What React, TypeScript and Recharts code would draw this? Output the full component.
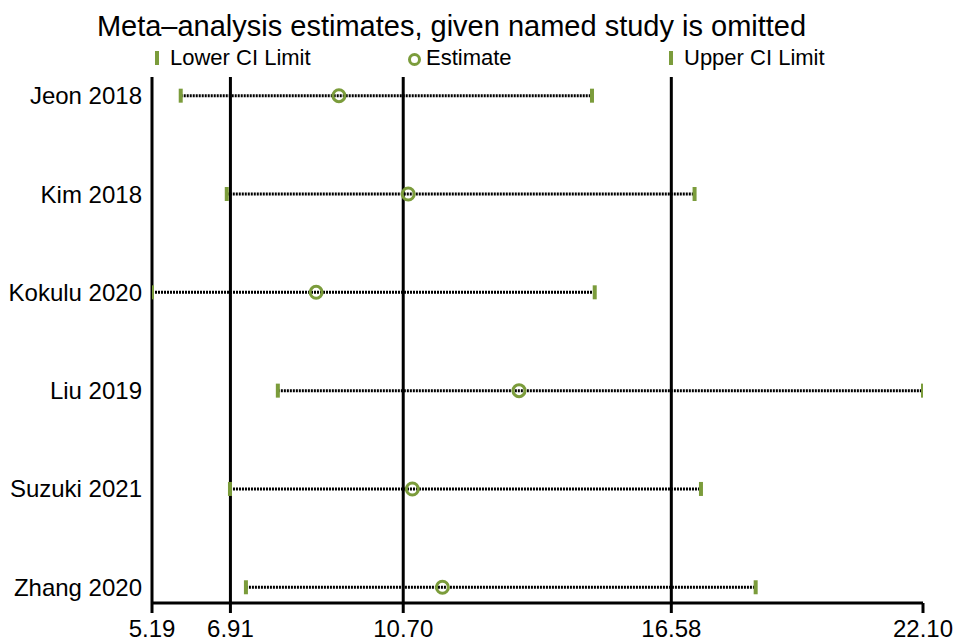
import {
  ScatterChart,
  Scatter,
  XAxis,
  YAxis,
  ReferenceLine,
  Legend,
} from 'recharts';

const studies = ['Jeon 2018', 'Kim 2018', 'Kokulu 2020', 'Liu 2019', 'Suzuki 2021', 'Zhang 2020'];
const lowerCI = [5.82, 6.83, 5.19, 7.95, 6.9, 7.25];
const estimates = [9.29, 10.81, 8.79, 13.24, 10.9, 11.56];
const upperCI = [14.84, 17.09, 14.9, 22.1, 17.23, 18.43];

// overall estimate and its CI (vertical lines) plus axis ends
const xTicks = [5.19, 6.91, 10.7, 16.58, 22.1];
const overallLines = [6.91, 10.7, 16.58];

const GREEN = '#7b9c3b';
const FONT = '"Liberation Sans", Arial, Helvetica, sans-serif';

const lowerData = studies.map((s, i) => ({ x: lowerCI[i], y: i, name: s }));
const estData = studies.map((s, i) => ({ x: estimates[i], y: i, name: s }));
const upperData = studies.map((s, i) => ({ x: upperCI[i], y: i, name: s }));

function CapShape(props: any) {
  const { cx, cy } = props;
  return <rect x={cx - 2} y={cy - 7} width={4} height={14} fill={GREEN} />;
}

function RingShape(props: any) {
  const { cx, cy } = props;
  return <circle cx={cx} cy={cy} r={6} fill="none" stroke={GREEN} strokeWidth={3} />;
}

function LegendContent() {
  const text = { position: 'absolute' as const, top: 5, fontSize: 22, lineHeight: '22px', color: '#000', whiteSpace: 'nowrap' as const };
  return (
    <div style={{ position: 'relative', width: 961, height: 30, fontFamily: FONT }}>
      <div style={{ position: 'absolute', left: 155, top: 9, width: 4, height: 14, background: GREEN }} />
      <div style={{ ...text, left: 170 }}>Lower CI Limit</div>
      <div
        style={{
          position: 'absolute',
          left: 408,
          top: 11,
          width: 7,
          height: 7,
          border: `3px solid ${GREEN}`,
          borderRadius: '50%',
        }}
      />
      <div style={{ ...text, left: 426 }}>Estimate</div>
      <div style={{ position: 'absolute', left: 669, top: 9, width: 4, height: 14, background: GREEN }} />
      <div style={{ ...text, left: 684 }}>Upper CI Limit</div>
    </div>
  );
}

export default function App() {
  return (
    <div style={{ position: 'absolute', left: 0, top: 0, width: 961, height: 642, background: '#fff', fontFamily: FONT }}>
      <div
        style={{
          position: 'absolute',
          top: 12,
          left: 0,
          width: 903,
          textAlign: 'center',
          fontSize: 29,
          lineHeight: '29px',
          color: '#000',
          zIndex: 2,
        }}
      >
        Meta–analysis estimates, given named study is omitted
      </div>
      <ScatterChart width={961} height={642} margin={{ top: 77, right: 38, bottom: 0, left: 0 }}>
        <XAxis
          type="number"
          dataKey="x"
          domain={[5.19, 22.1]}
          allowDataOverflow
          ticks={xTicks}
          interval={0}
          tickFormatter={(v: number) => v.toFixed(2)}
          height={39}
          tickSize={10}
          tickMargin={7}
          axisLine={{ stroke: '#000', strokeWidth: 3 }}
          tickLine={{ stroke: '#000', strokeWidth: 3 }}
          tick={{ fill: '#000', fontSize: 24, fontFamily: FONT }}
        />
        <YAxis
          type="number"
          dataKey="y"
          domain={[-0.19, 5.16]}
          allowDataOverflow
          reversed
          ticks={[0, 1, 2, 3, 4, 5]}
          interval={0}
          tickFormatter={(v: number) => studies[v] ?? ''}
          width={152}
          tickSize={0}
          tickMargin={10}
          axisLine={{ stroke: '#000', strokeWidth: 3 }}
          tickLine={false}
          tick={{ fill: '#000', fontSize: 24, fontFamily: FONT }}
        />
        {overallLines.map((v) => (
          <ReferenceLine key={v} x={v} stroke="#000" strokeWidth={3} />
        ))}
        {studies.map((s, i) => (
          <ReferenceLine
            key={s}
            segment={[
              { x: lowerCI[i], y: i },
              { x: upperCI[i], y: i },
            ]}
            stroke="#000"
            strokeWidth={3}
            strokeDasharray="2 1"
          />
        ))}
        <Legend
          layout="vertical"
          verticalAlign="middle"
          align="center"
          wrapperStyle={{ top: 42, left: 0, width: 961 }}
          content={LegendContent}
        />
        <Scatter name="Lower CI Limit" data={lowerData} shape={CapShape} isAnimationActive={false} />
        <Scatter name="Estimate" data={estData} shape={RingShape} isAnimationActive={false} />
        <Scatter name="Upper CI Limit" data={upperData} shape={CapShape} isAnimationActive={false} />
      </ScatterChart>
    </div>
  );
}
